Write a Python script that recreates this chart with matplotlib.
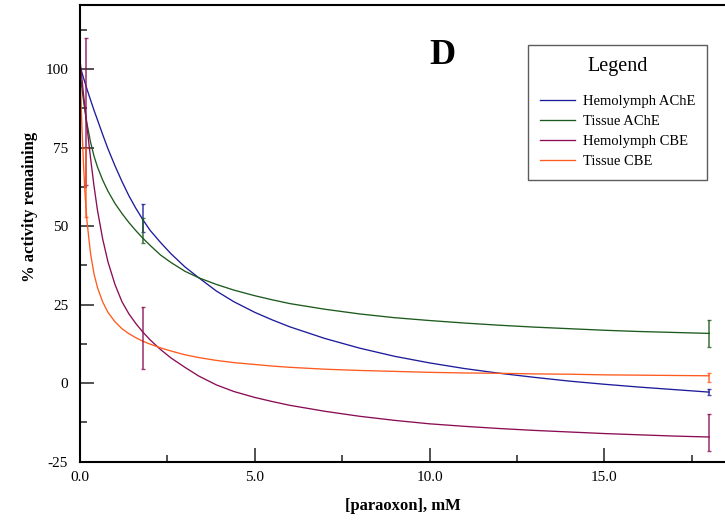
import matplotlib
matplotlib.use("Agg")
import matplotlib.pyplot as plt
from matplotlib.ticker import FixedLocator

plt.rcParams['font.family'] = ['Liberation Serif', 'DejaVu Serif']

# concentration grid (mM)
conc = [0, 0.05, 0.1, 0.15, 0.2, 0.3, 0.4, 0.5, 0.65, 0.8, 1.0, 1.2, 1.4, 1.6, 1.8, 2.0,
        2.3, 2.6, 3.0, 3.4, 3.9, 4.4, 5.0, 5.5, 6.0, 7.0, 8.0, 9.0, 10.0, 11.0, 12.0,
        13.0, 14.0, 15.0, 16.0, 17.0, 18.0]

hemo_ache = [101, 99.1, 97.2, 95.4, 93.6, 90.2, 86.9, 83.8, 79.1, 74.6, 69.2, 64.2, 59.6,
             55.6, 52.0, 48.7, 44.8, 41.2, 37.0, 33.5, 29.3, 25.9, 22.5, 20.1, 17.9, 14.2,
             11.1, 8.5, 6.4, 4.6, 3.1, 1.8, 0.6, -0.4, -1.3, -2.1, -2.9]
tissue_ache = [99, 94.3, 90, 86.1, 82.6, 76.8, 72.3, 68.8, 64.6, 61.1, 57.2, 54.0, 51.1,
               48.5, 46.1, 43.9, 40.8, 38.4, 35.6, 33.5, 31.4, 29.6, 27.8, 26.5, 25.3, 23.5,
               22.0, 20.8, 19.9, 19.1, 18.4, 17.8, 17.3, 16.8, 16.4, 16.1, 15.8]
hemo_cbe = [103, 97.5, 92, 86.7, 81.6, 71.8, 62.8, 55.0, 45.8, 38.6, 31.4, 25.9, 22.0,
            18.9, 16.2, 13.8, 10.7, 8.0, 5.0, 2.2, -0.6, -2.7, -4.6, -5.9, -7.1, -9.0,
            -10.6, -11.9, -13.0, -13.8, -14.5, -15.1, -15.6, -16.1, -16.5, -16.9, -17.2]
tissue_cbe = [100, 83, 69.5, 59, 51.5, 41.3, 34.8, 30.4, 25.8, 22.5, 19.5, 17.3, 15.7,
              14.4, 13.3, 12.4, 11.2, 10.2, 9.0, 8.1, 7.2, 6.5, 5.9, 5.4, 5.0, 4.4, 4.0,
              3.7, 3.4, 3.2, 3.1, 2.9, 2.8, 2.6, 2.5, 2.4, 2.3]

# measured means with error (x, mean, err)
err_hemo_ache = ([1.8, 18.0], [52.5, -2.9], [4.4, 1.0])
err_tissue_ache = ([1.8, 18.0], [48.5, 15.8], [4.0, 4.3])
err_hemo_cbe = ([0.18, 1.8, 18.0], [86.5, 14.3, -15.7], [23.5, 9.9, 5.9])
err_tissue_cbe = ([0.18, 18.0], [64.0, 1.8], [11.0, 1.5])

labels = ["Hemolymph AChE", "Tissue AChE", "Hemolymph CBE", "Tissue CBE"]
colors = ["#1c1c9c", "#1d5a1d", "#8a0c55", "#ff5a1e"]
series = [hemo_ache, tissue_ache, hemo_cbe, tissue_cbe]
errs = [err_hemo_ache, err_tissue_ache, err_hemo_cbe, err_tissue_cbe]

fig = plt.figure(figsize=(7.25, 5.21), dpi=100)
ax = fig.add_axes([80/725, 1-461.5/521, 1-80/725, (461.5-5)/521])

for y, c, lab in zip(series, colors, labels):
    ax.plot(conc, y, color=c, lw=0.95, label=lab)
for (ex, ey, ee), c in zip(errs, colors):
    ax.errorbar(ex, ey, yerr=ee, fmt='none', ecolor=c, elinewidth=1.2,
                capsize=1.5, capthick=1.0, alpha=0.8)

ax.set_xlim(0, 18.45)
ax.set_ylim(-25, 120.4)
ax.xaxis.set_major_locator(FixedLocator([0, 5, 10, 15]))
ax.xaxis.set_minor_locator(FixedLocator([2.5, 7.5, 12.5, 17.5]))
ax.yaxis.set_major_locator(FixedLocator([-25, 0, 25, 50, 75, 100]))
ax.yaxis.set_minor_locator(FixedLocator([-12.5, 12.5, 37.5, 62.5, 87.5, 112.5]))
ax.set_xticklabels(["0.0", "5.0", "10.0", "15.0"])
ax.set_yticklabels(["-25", "0", "25", "50", "75", "100"])
ax.tick_params(which='major', direction='in', length=10, width=1.1, labelsize=11,
               color='#222222')
ax.tick_params(which='minor', direction='in', length=5, width=1.1, color='#222222')
ax.tick_params(axis='y', pad=8.5)
ax.tick_params(axis='x', pad=7)
ax.spines['right'].set_visible(False)
for s in ['left', 'bottom', 'top']:
    ax.spines[s].set_linewidth(1.5)

ax.set_xlabel("[paraoxon], mM", fontsize=12, fontweight='bold')
ax.xaxis.set_label_coords(0.5, -(506-461.5)/456.5, transform=ax.transAxes)
ax.xaxis.label.set_va('center')
ax.set_ylabel("% activity remaining", fontsize=12, fontweight='bold')
ax.yaxis.set_label_coords((30-80)/644, (461.5-207)/456.5, transform=ax.transAxes)
ax.yaxis.label.set_va('center')

fig.text(442/725, 1-55/521, "D", fontsize=26, fontweight='bold', ha='center', va='center')

leg = ax.legend(loc='upper left', bbox_to_anchor=(528/725, 1-45/521),
                bbox_transform=fig.transFigure, title="Legend", fontsize=10.5,
                title_fontsize=14.5, frameon=True, fancybox=False, edgecolor='#333333',
                handlelength=2.35, handletextpad=0.55, labelspacing=0.47,
                borderpad=0.85, borderaxespad=0)
leg.get_frame().set_linewidth(1.0)
leg._legend_box.sep = 13

fig.savefig("out.png", dpi=100)
